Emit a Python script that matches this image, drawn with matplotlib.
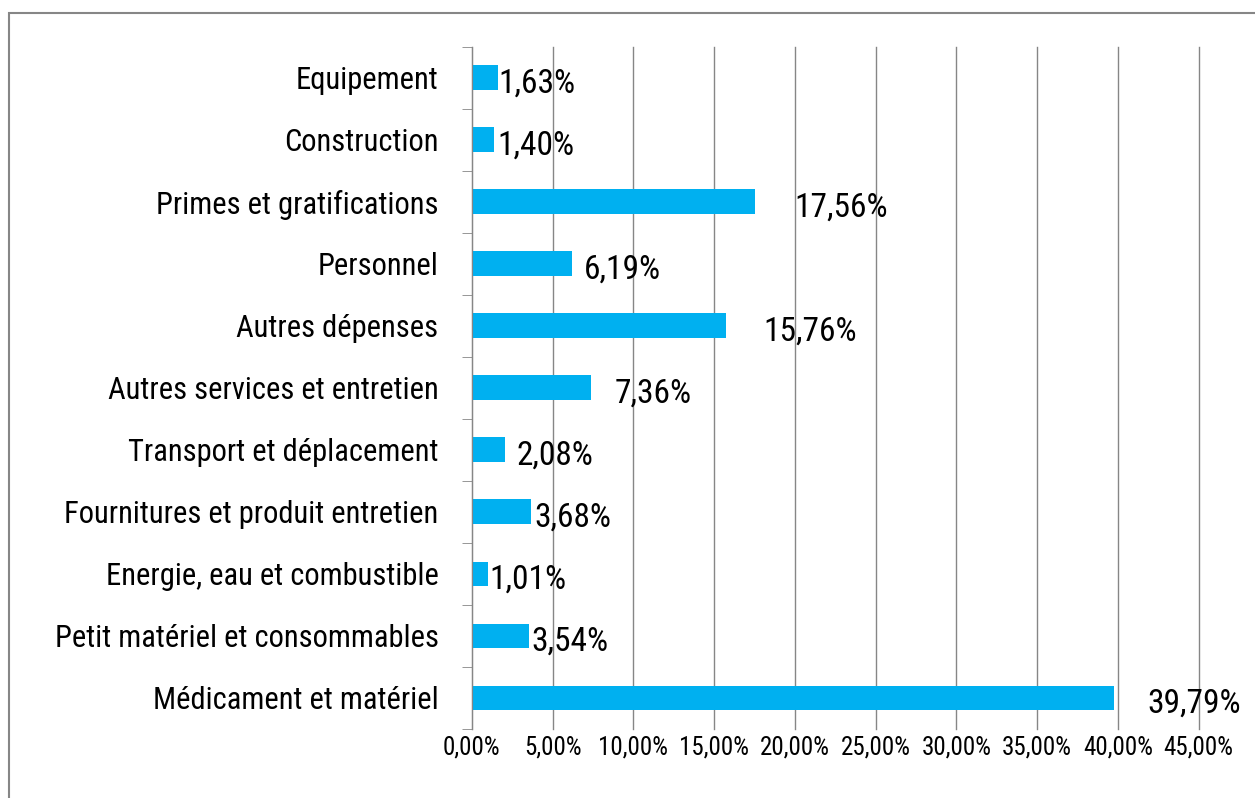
import matplotlib.pyplot as plt
import matplotlib.patches as patches
from matplotlib import font_manager
import numpy as np

available = {f.name for f in font_manager.fontManager.ttflist}
main_font = 'Lato'
for cand in ['Liberation Sans Narrow', 'Roboto Condensed', 'Open Sans Condensed']:
    if cand in available:
        main_font = cand
        break
plt.rcParams['font.family'] = [main_font, 'DejaVu Sans']

categories = ["Médicament et matériel", "Petit matériel et consommables",
              "Energie, eau et combustible", "Fournitures et produit entretien",
              "Transport et déplacement", "Autres services et entretien",
              "Autres dépenses", "Personnel", "Primes et gratifications",
              "Construction", "Equipement"]
values = [39.79, 3.54, 1.01, 3.68, 2.08, 7.36, 15.76, 6.19, 17.56, 1.40, 1.63]
xticks = [0, 5, 10, 15, 20, 25, 30, 35, 40, 45]

# label offsets (points) from the bar end, as placed in the original
label_pad = [24, 2, 1, 2, 8, 17, 27, 9, 28, 2, 0]

def fmt(v):
    return ("%.2f%%" % v).replace(".", ",")

fig = plt.figure(figsize=(12.55, 7.98), dpi=100)
ax = fig.add_axes([0.376, 0.0865, 0.579, 0.855])

y = np.arange(len(categories))
ax.barh(y, values, height=0.4, color='#00B0F0', zorder=3)

for yi, v, p in zip(y, values, label_pad):
    ax.annotate(fmt(v), (v, yi), xytext=(p, -4), textcoords='offset points',
                ha='left', va='center', fontsize=24, color='black', zorder=4,
                annotation_clip=False)

ax.set_xlim(0, 45)
ax.set_ylim(-0.5, len(categories) - 0.5)
ax.set_xticks(xticks)
ax.set_xticklabels([fmt(t) for t in xticks], fontsize=18)
ax.set_yticks(y)
ax.set_yticklabels(categories, fontsize=22)
ax.set_yticks(np.arange(len(categories) + 1) - 0.5, minor=True)
ax.tick_params(axis='y', which='major', length=0, pad=24)
ax.tick_params(axis='y', which='minor', length=7, color='#868686')
ax.tick_params(axis='x', length=0, pad=5)

ax.grid(axis='x', color='#868686', linewidth=1, zorder=0)
for line in ax.get_xgridlines():
    line.set_clip_on(False)
for s in ['top', 'right', 'bottom']:
    ax.spines[s].set_visible(False)
ax.spines['left'].set_color('#868686')
ax.spines['left'].set_zorder(5)

border = patches.Rectangle((9 / 1255, -0.1), 1.2, 1.1 - 13 / 798,
                           transform=fig.transFigure, fill=False,
                           edgecolor='#868686', linewidth=1.5)
fig.patches.append(border)

fig.savefig('out.png', dpi=100)
